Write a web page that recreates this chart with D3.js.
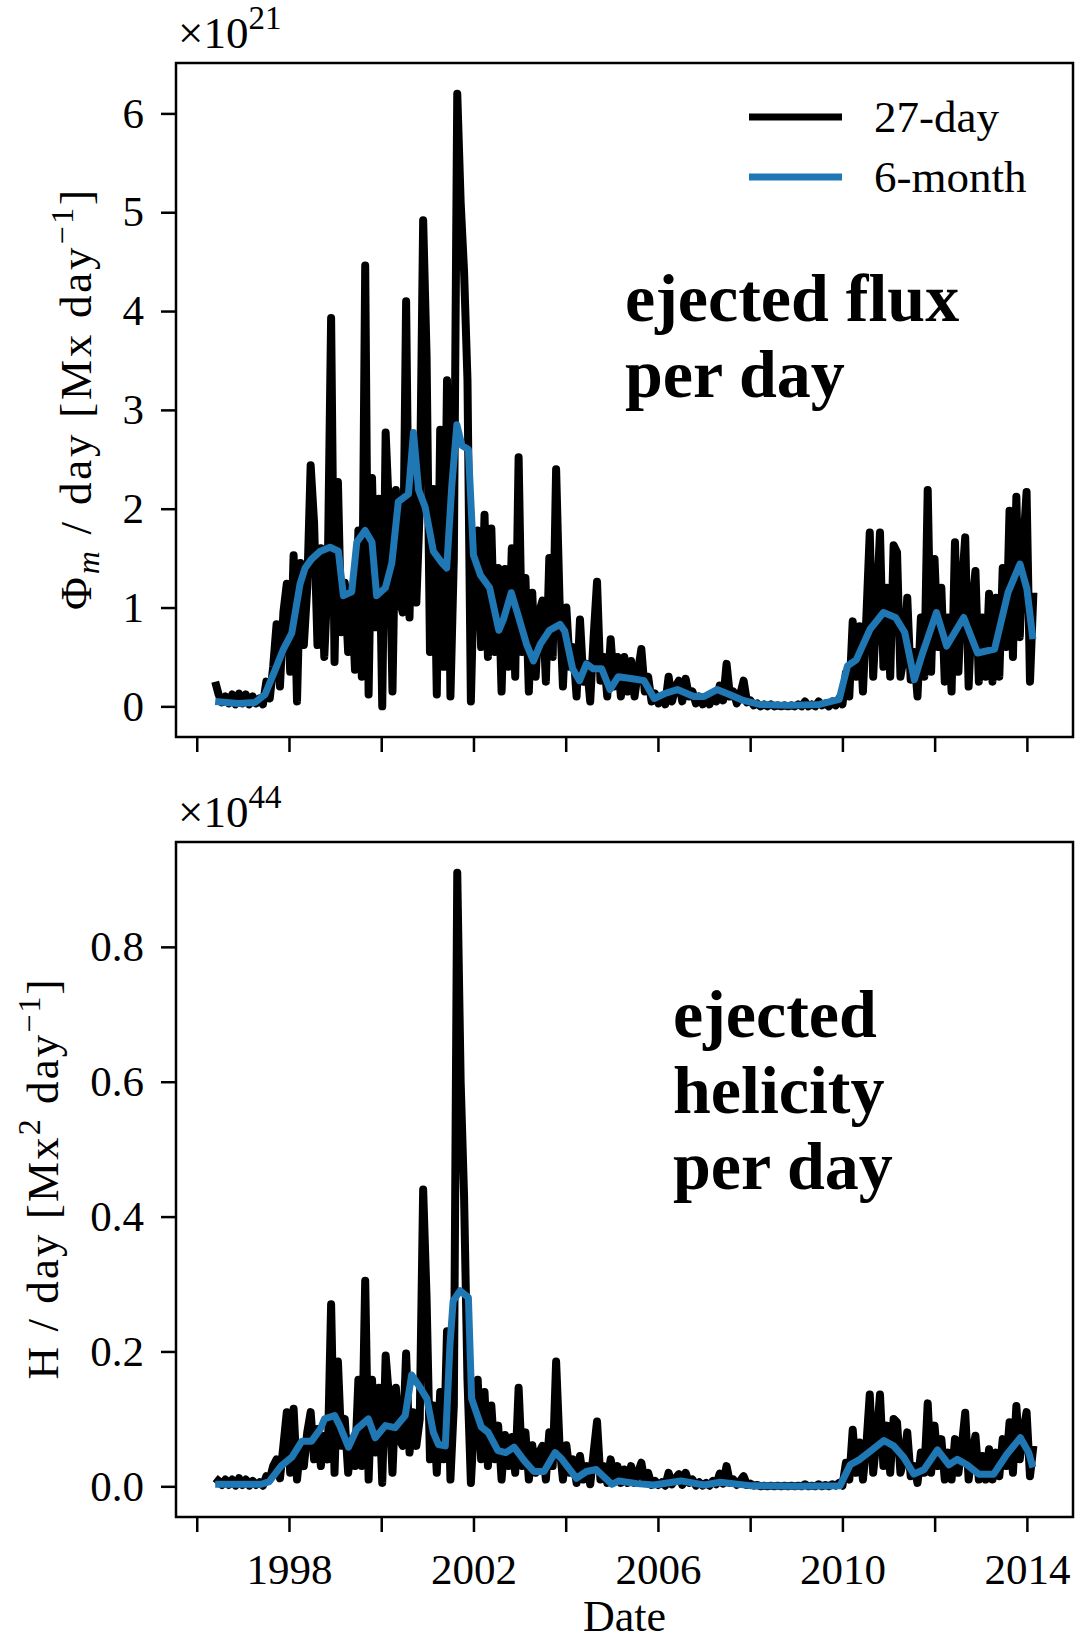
<!DOCTYPE html>
<html>
<head>
<meta charset="utf-8">
<script src="https://cdn.jsdelivr.net/npm/d3@7"></script>
<style>
	body { margin: 0; background: #fff; }
	svg { display: block; }
	text { font-family: "Liberation Serif", "Times New Roman", serif; fill: #000; white-space: pre; }
</style>
</head>
<body>
<svg id="chart" width="1088" height="1641"></svg>
<script>
// 27-day values, one every Carrington rotation starting at CR_START (decimal year)
const CR_START = 1996.40;
const CR_STEP = 27 / 365.25;

// ejected flux per day, units of 1e21 Mx/day
const flux27 = [
	0.25,0.12,0.04,0.10,0.03,0.12,0.02,0.13,0.03,0.12,
	0.02,0.10,0.03,0.08,0.02,0.25,0.08,0.40,0.83,0.20,
	0.95,1.24,0.35,1.53,0.05,1.45,0.62,1.20,2.44,1.86,
	0.62,1.60,0.50,1.30,3.93,0.45,2.27,0.75,1.25,0.55,
	1.20,0.37,1.78,0.30,4.46,0.12,2.31,0.80,2.10,0.00,
	2.77,1.95,0.15,2.19,1.10,0.95,4.10,0.90,2.60,1.05,
	2.00,4.92,3.55,0.55,2.20,0.12,2.80,0.40,3.30,0.10,
	1.50,6.20,5.10,4.40,3.30,0.05,1.50,1.78,0.60,1.94,
	0.50,1.80,0.55,1.40,0.15,1.39,0.40,1.60,0.30,2.52,
	0.55,1.30,0.15,1.15,0.30,0.95,1.07,0.25,1.50,0.50,
	2.40,1.07,0.20,1.00,0.40,0.60,0.10,0.88,0.25,0.43,
	0.05,0.70,1.26,0.26,0.50,0.10,0.68,0.20,0.50,0.10,
	0.50,0.15,0.46,0.10,0.35,0.58,0.15,0.30,0.05,0.13,
	0.03,0.10,0.02,0.30,0.05,0.20,0.26,0.05,0.28,0.10,
	0.15,0.03,0.10,0.02,0.08,0.02,0.12,0.05,0.21,0.06,
	0.43,0.10,0.15,0.03,0.12,0.26,0.04,0.06,0.01,0.03,
	0.00,0.02,0.00,0.02,0.00,0.01,0.00,0.01,0.00,0.01,
	0.00,0.02,0.00,0.05,0.00,0.02,0.00,0.05,0.01,0.03,
	0.00,0.05,0.01,0.08,0.02,0.34,0.10,0.86,0.30,0.81,
	0.15,0.90,1.76,0.30,1.00,1.76,0.40,1.20,0.30,1.63,
	1.56,0.30,0.50,1.10,0.27,0.55,0.10,0.90,0.30,2.19,
	0.35,1.49,0.60,1.20,0.25,0.90,0.15,1.66,0.35,1.20,
	1.71,0.20,1.00,1.37,0.25,0.90,0.30,1.14,0.25,1.10,
	0.30,1.40,0.60,1.98,0.50,2.12,0.70,1.60,2.17,0.25,1.15
];

// ejected helicity per day, units of 1e44 Mx^2/day
const helicity27 = [
	0.012,0.008,0.002,0.010,0.002,0.010,0.001,0.012,0.002,0.010,
	0.001,0.008,0.002,0.006,0.001,0.015,0.010,0.030,0.040,0.012,
	0.060,0.110,0.020,0.115,0.010,0.060,0.030,0.080,0.110,0.040,
	0.085,0.030,0.075,0.040,0.270,0.020,0.185,0.060,0.100,0.020,
	0.070,0.030,0.158,0.030,0.305,0.010,0.158,0.050,0.146,0.005,
	0.194,0.130,0.020,0.146,0.070,0.060,0.197,0.050,0.110,0.060,
	0.100,0.440,0.279,0.040,0.120,0.020,0.140,0.040,0.230,0.010,
	0.120,0.910,0.600,0.430,0.158,0.005,0.100,0.158,0.040,0.140,
	0.030,0.120,0.040,0.090,0.010,0.076,0.030,0.073,0.020,0.146,
	0.030,0.080,0.010,0.061,0.020,0.050,0.060,0.010,0.080,0.030,
	0.185,0.060,0.010,0.061,0.020,0.040,0.005,0.045,0.010,0.030,
	0.003,0.050,0.096,0.010,0.030,0.005,0.040,0.010,0.030,0.005,
	0.025,0.005,0.030,0.005,0.020,0.035,0.005,0.020,0.002,0.008,
	0.002,0.006,0.001,0.020,0.003,0.012,0.018,0.002,0.020,0.005,
	0.010,0.001,0.006,0.001,0.005,0.001,0.008,0.003,0.019,0.004,
	0.030,0.005,0.010,0.002,0.008,0.015,0.002,0.004,0.001,0.002,
	0.000,0.001,0.000,0.001,0.000,0.001,0.000,0.001,0.000,0.001,
	0.000,0.001,0.000,0.003,0.000,0.001,0.000,0.003,0.000,0.002,
	0.000,0.003,0.001,0.005,0.001,0.035,0.010,0.084,0.020,0.065,
	0.010,0.060,0.136,0.020,0.070,0.136,0.030,0.090,0.020,0.100,
	0.095,0.020,0.040,0.080,0.015,0.030,0.005,0.050,0.020,0.123,
	0.020,0.090,0.030,0.070,0.010,0.050,0.010,0.070,0.020,0.060,
	0.109,0.010,0.050,0.075,0.010,0.045,0.010,0.055,0.010,0.050,
	0.015,0.070,0.030,0.095,0.020,0.119,0.040,0.080,0.110,0.015,0.060
];

// 6-month running values
const flux6Years = [
	1996.40,1996.90,1997.26,1997.48,1997.70,1997.88,1998.06,1998.24,1998.35,1998.49,
	1998.68,1998.89,1999.07,1999.18,1999.36,1999.47,1999.65,1999.80,1999.90,2000.09,
	2000.23,2000.37,2000.59,2000.70,2000.81,2000.95,2001.13,2001.32,2001.42,2001.53,
	2001.64,2001.75,2001.89,2002.00,2002.15,2002.35,2002.55,2002.65,2002.82,2002.95,
	2003.15,2003.30,2003.45,2003.65,2003.88,2003.98,2004.15,2004.30,2004.45,2004.60,
	2004.78,2004.96,2005.14,2005.45,2005.70,2005.92,2006.15,2006.42,2006.78,2007.00,
	2007.28,2007.55,2007.85,2008.20,2008.80,2009.50,2009.93,2010.11,2010.30,2010.60,
	2010.89,2011.15,2011.35,2011.56,2011.74,2012.04,2012.26,2012.63,2012.93,2013.30,
	2013.59,2013.85,2014.00,2014.13
];
const flux6 = [
	0.05,0.03,0.04,0.12,0.37,0.58,0.74,1.24,1.40,1.49,
	1.57,1.61,1.57,1.12,1.16,1.66,1.78,1.66,1.12,1.20,
	1.45,2.07,2.15,2.77,2.19,2.02,1.57,1.45,1.40,2.23,
	2.85,2.64,2.60,1.53,1.33,1.20,0.77,0.88,1.15,0.95,
	0.63,0.46,0.63,0.77,0.83,0.76,0.38,0.26,0.43,0.38,
	0.38,0.17,0.30,0.28,0.26,0.08,0.13,0.17,0.10,0.10,
	0.17,0.12,0.06,0.02,0.01,0.02,0.07,0.41,0.47,0.78,
	0.95,0.90,0.75,0.27,0.54,0.95,0.61,0.90,0.54,0.58,
	1.15,1.44,1.19,0.68
];

const helicity6Years = [
	1996.40,1997.40,1997.57,1997.84,1998.06,1998.28,1998.49,1998.68,1998.77,1998.99,
	1999.10,1999.29,1999.47,1999.72,1999.87,2000.09,2000.30,2000.52,2000.66,2000.81,
	2000.99,2001.13,2001.24,2001.39,2001.49,2001.56,2001.71,2001.89,2001.96,2002.17,
	2002.32,2002.53,2002.70,2002.88,2003.10,2003.31,2003.53,2003.77,2003.92,2004.23,
	2004.45,2004.66,2005.00,2005.15,2005.55,2005.91,2006.50,2007.00,2007.35,2008.00,
	2009.00,2009.95,2010.17,2010.38,2010.68,2010.90,2011.11,2011.33,2011.55,2011.77,
	2012.06,2012.31,2012.49,2012.70,2012.96,2013.28,2013.57,2013.86,2014.04,2014.13
];
const helicity6 = [
	0.003,0.003,0.007,0.031,0.043,0.067,0.067,0.085,0.100,0.105,
	0.090,0.058,0.085,0.100,0.072,0.090,0.087,0.105,0.165,0.150,
	0.130,0.080,0.062,0.060,0.210,0.275,0.290,0.280,0.130,0.088,
	0.080,0.053,0.050,0.058,0.038,0.022,0.022,0.050,0.040,0.012,
	0.022,0.025,0.003,0.008,0.004,0.002,0.008,0.002,0.006,0.001,
	0.000,0.001,0.032,0.040,0.056,0.068,0.060,0.043,0.018,0.025,
	0.054,0.032,0.040,0.032,0.018,0.018,0.048,0.072,0.050,0.028
];

// axis ticks
const yearTicks = [1996, 1998, 2000, 2002, 2004, 2006, 2008, 2010, 2012, 2014];
const yearLabels = [1998, 2002, 2006, 2010, 2014];
const fluxTicks = [0, 1, 2, 3, 4, 5, 6];
const helicityTicks = [0, 0.2, 0.4, 0.6, 0.8];

const BLUE = "#1f77b4";
const LINE_W = 8;
const plotLeft = 176;
const plotRight = 1073;
const xDomain = [1995.55, 2015.0];

const svg = d3.select("#chart");

// matplotlib-style 5% padding around the data
function paddedDomain(values) {
	const [lo, hi] = d3.extent(values);
	const pad = (hi - lo) * 0.05;
	return [lo - pad, hi + pad];
}

function styleAxis(g) {
	g.select(".domain").remove();
	g.attr("font-family", "'Liberation Serif', 'Times New Roman', serif")
		.attr("font-size", 43);
	g.selectAll(".tick line").attr("stroke", "#000").attr("stroke-width", 2.5);
	g.selectAll(".tick text").attr("fill", "#000");
}

function drawPanel(p) {
	const x = d3.scaleLinear().domain(xDomain).range([plotLeft, plotRight]);
	const y = d3.scaleLinear().domain(paddedDomain(p.raw)).range([p.bottom, p.top]);
	const g = svg.append("g");

	const line = d3.line().x(d => x(d[0])).y(d => y(d[1]));

	const rawPts = p.raw.map((v, i) => [CR_START + i * CR_STEP, v]);
	g.append("path")
		.datum(rawPts)
		.attr("d", line)
		.attr("fill", "none")
		.attr("stroke", "#000")
		.attr("stroke-width", LINE_W)
		.attr("stroke-linejoin", "round");

	const smoothPts = p.smoothYears.map((t, i) => [t, p.smooth[i]]);
	g.append("path")
		.datum(smoothPts)
		.attr("d", line)
		.attr("fill", "none")
		.attr("stroke", BLUE)
		.attr("stroke-width", LINE_W - 1)
		.attr("stroke-linejoin", "round");

	// frame
	g.append("rect")
		.attr("x", plotLeft).attr("y", p.top)
		.attr("width", plotRight - plotLeft).attr("height", p.bottom - p.top)
		.attr("fill", "none")
		.attr("stroke", "#000")
		.attr("stroke-width", 2.5);

	g.append("g")
		.attr("transform", `translate(${plotLeft},0)`)
		.call(d3.axisLeft(y).tickValues(p.yTicks).tickFormat(p.fmt).tickSize(15).tickPadding(17))
		.call(styleAxis);

	g.append("g")
		.attr("transform", `translate(0,${p.bottom})`)
		.call(d3.axisBottom(x).tickValues(yearTicks)
			.tickFormat(d => (p.showYears && yearLabels.includes(d)) ? String(d) : "")
			.tickSize(15).tickPadding(21))
		.call(styleAxis);

	// offset text above the axis
	const off = g.append("text")
		.attr("x", plotLeft + 2)
		.attr("y", p.top - 15)
		.attr("font-size", 45);
	off.append("tspan").text("×10");
	off.append("tspan").attr("dy", -19).attr("font-size", 33).text(p.exponent);

	// y label
	const lab = g.append("text")
		.attr("transform", `translate(${p.labelX},${(p.top + p.bottom) / 2}) rotate(-90)`)
		.attr("text-anchor", "middle")
		.attr("font-size", 45)
		.attr("textLength", p.labelLen)
		.attr("lengthAdjust", "spacing");
	p.label.forEach(part => {
		const t = lab.append("tspan").text(part.text);
		if (part.dy) t.attr("dy", part.dy);
		if (part.size) t.attr("font-size", part.size);
		if (part.italic) t.attr("font-style", "italic");
	});

	// bold annotation
	p.note.forEach((txt, i) => {
		g.append("text")
			.attr("x", p.noteX)
			.attr("y", p.noteY + i * 76)
			.attr("font-size", 68)
			.attr("font-weight", "bold")
			.text(txt);
	});

	return g;
}

const fluxPanel = drawPanel({
	raw: flux27, smoothYears: flux6Years, smooth: flux6,
	top: 63, bottom: 737,
	yTicks: fluxTicks, fmt: d3.format("d"),
	showYears: false, exponent: "21",
	labelX: 91, labelLen: 420,
	label: [
		{ text: "Φ" },
		{ text: "m", dy: 8, size: 32, italic: true },
		{ text: " / day [Mx day", dy: -8 },
		{ text: "−1", dy: -18, size: 32 },
		{ text: "]", dy: 18 }
	],
	note: ["ejected flux", "per day"], noteX: 625, noteY: 321
});

drawPanel({
	raw: helicity27, smoothYears: helicity6Years, smooth: helicity6,
	top: 842, bottom: 1517,
	yTicks: helicityTicks, fmt: d3.format(".1f"),
	showYears: true, exponent: "44",
	labelX: 58, labelLen: 400,
	label: [
		{ text: "H / day [Mx" },
		{ text: "2", dy: -18, size: 32 },
		{ text: " day", dy: 18 },
		{ text: "−1", dy: -18, size: 32 },
		{ text: "]", dy: 18 }
	],
	note: ["ejected", "helicity", "per day"], noteX: 673, noteY: 1037
});

// legend (top panel only)
const legendItems = [
	{ name: "27-day", color: "#000", y: 117 },
	{ name: "6-month", color: BLUE, y: 177 }
];
const legend = fluxPanel.append("g");
legendItems.forEach(it => {
	legend.append("line")
		.attr("x1", 749).attr("x2", 842)
		.attr("y1", it.y).attr("y2", it.y)
		.attr("stroke", it.color)
		.attr("stroke-width", 7);
	legend.append("text")
		.attr("x", 874)
		.attr("y", it.y + 15)
		.attr("font-size", 45)
		.text(it.name);
});

// x axis title
svg.append("text")
	.attr("x", (plotLeft + plotRight) / 2)
	.attr("y", 1631)
	.attr("text-anchor", "middle")
	.attr("font-size", 44)
	.text("Date");
</script>
</body>
</html>
